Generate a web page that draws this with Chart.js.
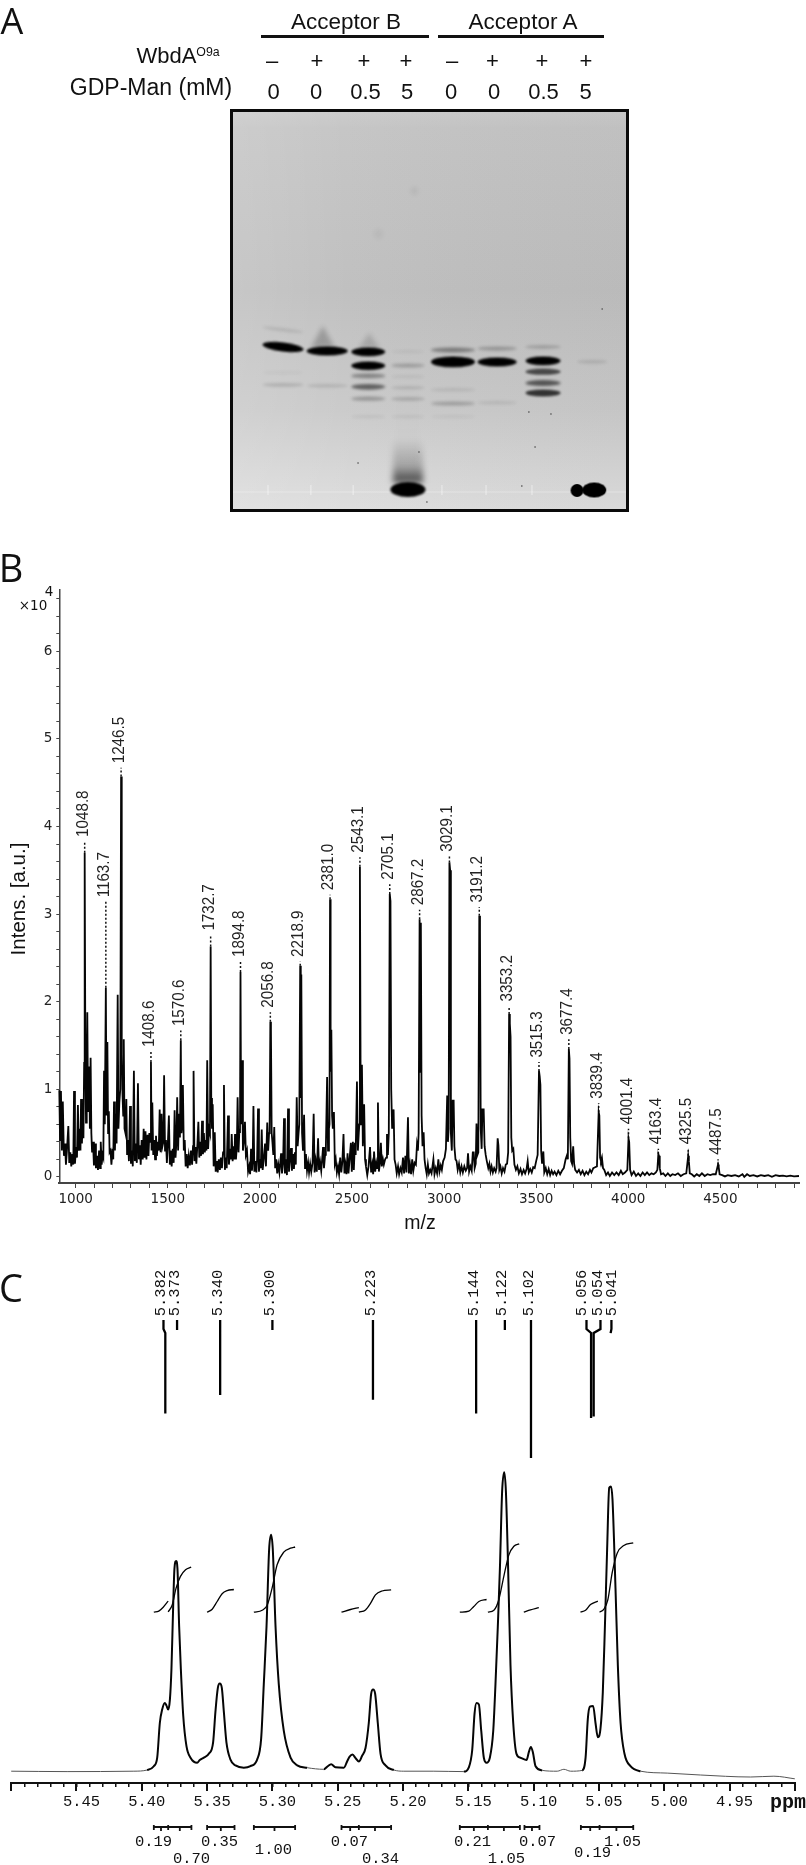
<!DOCTYPE html>
<html>
<head>
<meta charset="utf-8">
<title>WbdA gel, MALDI and NMR</title>
<script src="https://cdn.jsdelivr.net/npm/chart.js@4/dist/chart.umd.min.js"></script>
<style>
html, body { margin: 0; padding: 0; background: #fff; }
#page { position: relative; width: 806px; height: 1865px; overflow: hidden; }
canvas { position: absolute; left: 0; }
.txt { position: absolute; white-space: nowrap; color: #111; line-height: 1; transform: translate(-50%, -50%); }
.txt sup { font-size: 0.56em; vertical-align: 0.55em; line-height: 0; }
</style>
</head>
<body>
<div id="page">
  <canvas id="gel" width="806" height="530" style="top:0"></canvas>
  <canvas id="maldi" width="806" height="680" style="top:560px"></canvas>
  <canvas id="nmr" width="806" height="605" style="top:1260px"></canvas>
</div>
<script>
/* ---------- panel A data ---------- */
const wbdaRow = ['–', '+', '+', '+', '–', '+', '+', '+']
const gdpManRow = ['0', '0', '0.5', '5', '0', '0', '0.5', '5']
const laneIndex = [1, 2, 2.93, 3.83, 4.85, 5.85, 6.89, 8]
// lane (1-8), migration from top of gel, band strength
const bandLane = [1, 1, 1, 1, 2, 2, 3, 3, 3, 3, 3, 3, 4, 4, 4, 4, 4, 4, 5, 5, 5, 5, 5, 6, 6, 6, 7, 7, 7, 7, 7, 8]
const bandMigration = [235, 218, 261, 273, 239, 274, 240, 254, 264, 275, 287, 305, 240, 254, 265, 276, 287, 305, 250, 238, 278, 292, 305, 250, 237, 291, 249, 235, 260, 271, 281, 250]
const bandStrength = [1, 0.09, 0.03, 0.12, 1, 0.1, 0.95, 0.9, 0.3, 0.45, 0.22, 0.05, 0.04, 0.18, 0.05, 0.1, 0.14, 0.05, 1.3, 0.32, 0.07, 0.18, 0.04, 1, 0.2, 0.07, 0.95, 0.15, 0.55, 0.5, 0.65, 0.1]
const blobLane = [3.83, 7.66, 8.05]
const blobMigration = [377.5, 378.5, 378]
const smearLane = [1.9, 2.95, 3.83, 3.83]
const smearMigration = [225, 229, 349, 300]
const speckLane = [8.23, 4.08, 2.7, 6.57, 7.07, 6.71, 6.41, 4.26]
const speckMigration = [197, 340, 351, 300, 302, 335, 374, 390]
const faintSpotLane = [3.97, 3.16]
const faintSpotMigration = [79, 122]

/* ---------- panel B data ---------- */
const peakMz = [1048.8, 1163.7, 1246.5, 1408.6, 1570.6, 1732.7, 1894.8, 2056.8, 2218.9, 2381.0, 2543.1, 2705.1, 2867.2, 3029.1, 3191.2, 3353.2, 3515.3, 3677.4, 3839.4, 4001.4, 4163.4, 4325.5, 4487.5]
const peakTop = [3.70, 2.16, 4.57, 1.31, 1.56, 2.63, 2.34, 1.77, 2.41, 3.17, 3.54, 3.23, 2.94, 3.59, 2.98, 1.86, 1.21, 1.46, 0.74, 0.44, 0.26, 0.24, 0.14]
const peakLeaderTop = [3.83, 3.14, 4.67, 1.43, 1.67, 2.76, 2.46, 1.88, 2.46, 3.22, 3.65, 3.34, 3.05, 3.66, 3.08, 1.95, 1.31, 1.57, 0.84, 0.55, 0.32, 0.32, 0.20]
// m/z, intensity (x10^4)
const spectrum = [
[911,.99],[915,.42],[920,.98],[925,.30],[930,.86],[936,.24],[942,.38],[947,.14],[953,.32],[960,.58],[965,.16],[971,.28],[976,.12],[982,.26],[987,.14],[991,.98],[996,.15],[1002,.34],[1007,.22],[1012,.82],[1017,.30],[1022,.55],[1026,.30],[1029,.89],[1034,.38],[1038,.70],[1042,.44],[1046,1.30],[1048.8,3.70],[1052,1.7],[1056,.62],[1060,1.0],[1063,1.88],[1067,.75],[1071,.85],[1074,1.26],[1077,.55],[1081,1.36],[1085,.50],[1089,.28],[1094,.40],[1099,.13],[1105,.38],[1110,.10],[1116,.24],[1121,.08],[1127,.30],[1132,.10],[1136,.40],[1141,.14],[1146,.25],[1150,.22],[1154,1.21],[1158,.60],[1163.7,2.16],[1167,.7],[1170,1.0],[1172,1.54],[1176,.5],[1180,.75],[1184,.28],[1189,.30],[1194,.14],[1200,.32],[1204,.20],[1208,.86],[1213,.30],[1218,.72],[1222,.38],[1228,2.08],[1232,.55],[1237,.85],[1242,1.0],[1246.5,4.57],[1250,1.4],[1254,.95],[1258,.70],[1261,1.57],[1265,.55],[1270,.50],[1275,.89],[1279,.25],[1284,.42],[1289,.18],[1295,.81],[1300,.15],[1305,.30],[1310,.12],[1316,1.21],[1321,.18],[1326,.38],[1332,.16],[1338,1.07],[1343,.20],[1348,.36],[1353,.14],[1358,.42],[1364,.20],[1369,.55],[1374,.22],[1379,.52],[1384,.20],[1390,.48],[1395,.24],[1400,.50],[1404,.40],[1408.6,1.31],[1412,.30],[1416,.85],[1421,.25],[1426,.42],[1431,.20],[1436,.47],[1441,.24],[1446,.40],[1451,.30],[1456,.77],[1461,.28],[1466,.72],[1471,.35],[1476,.40],[1480,1.16],[1485,.30],
[1490,.42],[1495,.16],[1500,.36],[1506,.70],[1511,.14],[1516,.30],[1521,.12],[1527,.32],[1532,.16],[1537,.76],[1542,.22],[1547,.40],[1551,.91],[1556,.30],[1561,.72],[1566,.45],[1570.6,1.56],[1574,.50],[1578,.60],[1582,1.05],[1587,.30],[1592,.42],[1597,.12],[1603,.26],[1608,.10],[1614,.24],[1620,.13],[1626,.30],[1632,.14],[1637,.35],[1640,1.21],[1645,.18],[1650,.34],[1655,.15],[1661,.38],[1666,.63],[1671,.22],[1676,.40],[1681,.24],[1686,.64],[1691,.26],[1696,.50],[1701,.28],[1706,.42],[1710,.30],[1714,1.33],[1719,.32],[1724,.55],[1729,.50],[1732.7,2.63],[1736,.90],[1740,.55],[1744,.83],[1749,.12],[1755,.51],[1760,.06],[1766,.18],[1771,.05],[1777,.20],[1783,.08],[1788,.22],[1794,.10],[1800,.28],[1805,1.05],[1810,.08],[1815,.22],[1820,.10],[1827,.70],[1832,.14],[1838,.32],[1843,.20],[1847,.49],[1852,.18],[1858,.35],[1862,.20],[1865,.49],[1870,.20],[1875,.35],[1879,.91],[1884,.28],[1889,.55],[1892,.50],[1894.8,2.34],[1898,.60],[1903,1.33],[1908,.30],[1913,.40],[1919,.63],[1924,.25],[1930,.30],[1936,.06],[1942,.12],[1947,.03],[1952,.32],[1957,.07],[1961,.20],[1965,.81],[1970,.06],[1976,.18],[1981,.05],[1985,.20],[1990,.78],[1995,.06],[2000,.20],[2005,.10],[2010,.54],[2015,.08],[2021,.20],[2028,.38],[2033,.12],[2040,.62],[2045,.30],[2050,.50],[2053,.55],[2056.8,1.77],[2060,1.68],[2064,.50],[2068,.40],[2073,.25],[2078,.57],[2083,.10],[2089,.20],[2094,.04],[2100,.14],[2106,.05],[2115,.27],[2120,.04],[2126,.16],[2131,.67],[2136,.04],[2142,.20],[2147,.02],[2153,.78],[2158,.06],[2164,.22],[2169,.33],[2174,.07],[2180,.26],[2185,.09],[2190,.28],[2195,.14],[2200,.91],[2205,.35],[2210,.50],[2214,.60],[2218.9,2.41],[2222,.9],[2225,2.31],[2229,.5],[2234,.30],[2240,.71],[2245,.10],[2250,.26],[2256,.07],[2262,.16],[2267,.05],[2273,.15],[2279,.06],[2286,.16],[2292,.72],[2297,.05],[2303,.18],[2309,.06],[2316,.44],[2321,.08],[2327,.17],[2333,.07],[2338,.20],[2343,.34],[2348,.10],[2354,.25],[2358,.30],[2365,1.14],[2370,.30],[2375,.55],[2378,.60],[2381,3.17],[2384,1.2],[2388,1.68],[2392,.70],[2396,.55],[2402,.74],[2407,.15],[2412,.20],[2418,.05],[2424,.12],[2430,.03],[2436,.22],[2442,.05],[2448,.18],[2454,.49],[2459,.04],[2465,.14],[2470,.03],[2476,.27],[2481,.04],[2487,.20],[2494,.39],[2499,.06],[2505,.40],[2510,.08],[2516,.39],[2520,.25],[2527,1.09],[2532,.30],[2537,.50],[2540,.60],[2543.1,3.54],[2547,1.0],[2550,.6],[2554,1.28],[2559,.35],[2566,.83],[2571,.20],[2576,.12],[2583,.02],[2590,.12],[2598,.34],[2604,.05],[2610,.14],[2615,.03],[2620,.29],[2626,.06],[2632,.16],[2637,.10],[2641,.85],[2646,.06],[2652,.16],[2657,.39],[2662,.12],[2668,.20],[2673,.14],[2680,.20],[2686,.22],[2690,.49],[2695,.25],[2700,.50],[2705.1,3.23],[2709,3.15],[2713,1.0],[2718,.55],[2726,.77],[2731,.20],[2737,.14],[2743,.04],[2750,.12],[2756,.03],[2763,.10],[2770,.05],[2777,.22],[2783,.04],[2790,.24],[2796,.05],[2804,.68],[2809,.04],[2815,.14],[2821,.03],[2827,.20],[2833,.07],[2840,.16],[2847,.14],[2853,.37],[2858,.30],[2862,.50],[2867.2,2.94],[2870,1.2],[2874,2.9],[2878,.70],[2883,.35],[2889,.51],[2894,.20],[2900,.10],[2906,.03],
[2912,.14],[2918,.04],[2925,.08],[2932,.04],[2942,.20],[2948,.03],[2955,.10],[2962,.04],[2969,.20],[2975,.06],[2982,.13],[2988,.08],[2995,.18],[3003,.22],[3010,.32],[3017,.93],[3021,.40],[3025,.55],[3029.1,3.59],[3033,3.5],[3037,.50],[3042,.30],[3047,.87],[3052,.87],[3056,.35],[3062,.20],[3068,.18],[3074,.08],[3081,.15],[3088,.05],[3095,.12],[3102,.05],[3110,.12],[3118,.07],[3125,.10],[3130,.27],[3136,.06],[3143,.12],[3150,.07],[3156,.28],[3161,.28],[3166,.10],[3172,.15],[3176,.61],[3181,.25],[3186,.28],[3191.2,2.98],[3195,2.8],[3199,.55],[3204,.32],[3208,.77],[3215,.77],[3220,.35],[3226,.25],[3232,.18],[3240,.10],[3246,.15],[3252,.06],[3258,.12],[3265,.05],[3272,.10],[3280,.06],[3285,.10],[3291,.44],[3295,.36],[3300,.08],[3306,.12],[3313,.04],[3320,.10],[3328,.06],[3335,.14],[3342,.15],[3348,.28],[3353.2,1.86],[3357,1.75],[3361,1.60],[3365,.45],[3370,.30],[3376,.32],[3382,.14],[3390,.08],[3398,.12],[3406,.04],[3415,.09],[3423,.03],[3432,.08],[3440,.04],[3448,.09],[3454,.18],[3460,.05],[3468,.09],[3476,.05],[3484,.11],[3492,.10],[3500,.18],[3508,.25],[3515.3,1.21],[3519,1.15],[3523,1.05],[3527,.30],[3532,.15],[3539,.29],[3544,.05],[3552,.10],[3560,.03],[3568,.09],[3576,.02],[3584,.07],[3592,.03],[3600,.06],[3610,.02],[3620,.07],[3630,.03],[3640,.07],[3650,.10],[3660,.20],[3668,.25],[3672,.20],[3677.4,1.46],[3681,1.35],[3685,.45],[3690,.18],[3695,.15],[3701,.35],[3706,.15],[3712,.08],[3722,.05],[3732,.08],[3742,.03],[3752,.07],[3762,.02],[3772,.06],[3782,.03],[3792,.08],[3800,.05],[3810,.10],[3820,.11],[3830,.12],[3839.4,.74],[3843,.70],[3847,.22],[3852,.18],[3857,.22],[3863,.10],[3870,.08],[3880,.02],[3890,.05],[3900,.01],[3912,.05],[3924,.02],[3936,.05],[3948,.02],[3960,.07],[3970,.03],[3982,.05],[3995,.08],[4001.4,.44],[4005,.40],[4010,.08],[4018,.02],[4030,.06],[4042,.01],[4054,.04],[4066,.01],[4078,.05],[4090,.02],[4102,.05],[4114,.02],[4126,.04],[4138,.03],[4150,.05],[4158,.08],[4163.4,.26],[4167,.24],[4171,.10],[4178,.03],[4190,.04],[4202,.01],[4215,.04],[4228,.01],[4240,.03],[4255,.02],[4270,.04],[4285,.01],[4300,.03],[4315,.04],[4325.5,.24],[4329,.18],[4334,.04],[4345,.03],[4358,.005],[4372,.03],[4386,.01],[4400,.04],[4415,.01],[4430,.03],[4445,.02],[4460,.03],[4475,.03],[4487.5,.14],[4491,.11],[4496,.03],[4510,.02],[4525,.005],[4540,.02],[4560,.01],[4580,.02],[4600,.005],[4620,.03],[4630,0],[4645,.03],[4660,.01],[4680,.02],[4700,.005],[4720,.02],[4740,.01],[4760,.02],[4780,0],[4800,.02],[4820,.01],[4840,.015],[4860,.005],[4880,.015],[4900,.005],[4927,.01]
]

/* ---------- panel C data ---------- */
const shiftPpm = [5.382, 5.373, 5.340, 5.300, 5.223, 5.144, 5.122, 5.102, 5.056, 5.054, 5.041]
const shiftStubPpm = [5.3834, 5.373, 5.340, 5.300, 5.223, 5.144, 5.122, 5.102, 5.0595, 5.0488, 5.0404]
const shiftStickEnd = [369, 452.5, 387.5, 452.5, 382.8, 369, 452.5, 324.5, 364.5, 366, 450]
// ppm, signal height
const nmrTrace = [
[5.5005,11.3],[5.4572,10.9],[5.4061,11.3],[5.3959,12.5],[5.3908,16.3],[5.3882,24.8],[5.3862,59.5],[5.3844,73],[5.3824,79.6],[5.3811,76.9],[5.3798,73],[5.3785,82.7],[5.3773,113.5],[5.3760,175.3],[5.3750,213.9],[5.3737,221.6],[5.3727,213.9],[5.3714,156],[5.3701,113.5],[5.3683,67.3],[5.3658,36.4],[5.3627,24.8],[5.3576,19.8],[5.3556,22.5],[5.3525,24.8],[5.3487,28.7],[5.3454,40.2],[5.3436,71.1],[5.3418,94.3],[5.3403,98.9],[5.3387,94.3],[5.3372,71.1],[5.3352,40.2],[5.3321,22.9],[5.3283,17.1],[5.3219,14.8],[5.3168,16.3],[5.3117,22.9],[5.3086,44.1],[5.3066,98.1],[5.3045,156],[5.3025,233.2],[5.3010,247.8],[5.2997,233.2],[5.2976,156],[5.2951,98.1],[5.2913,51.8],[5.2861,24.8],[5.2810,17.1],[5.2734,14.8],[5.2606,13.2],[5.2576,16.3],[5.2550,18.3],[5.2517,15.2],[5.2453,14.8],[5.2428,21],[5.2410,25.6],[5.2387,27.9],[5.2361,24],[5.2338,21],[5.2313,26.8],[5.2287,34.5],[5.2262,59.5],[5.2244,88.5],[5.2229,93.1],[5.2213,88.5],[5.2193,59.5],[5.2172,28.7],[5.2134,17.1],[5.2070,12.5],[5.1994,11.3],
[5.1764,11.3],[5.1534,10.9],[5.1496,15.2],[5.1470,32.5],[5.1452,69.2],[5.1437,79.6],[5.1419,78.1],[5.1401,51.8],[5.1381,24.8],[5.1360,19.8],[5.1335,24.8],[5.1309,51.8],[5.1292,98.1],[5.1274,156],[5.1258,213.9],[5.1241,291],[5.1225,310.3],[5.1212,291],[5.1195,213.9],[5.1177,117.4],[5.1156,59.5],[5.1131,28.7],[5.1100,24.8],[5.1054,22.5],[5.1036,30.6],[5.1021,35.6],[5.1006,30.6],[5.0985,16.3],[5.0934,12.1],[5.0819,11.3],[5.0768,13.2],[5.0717,11.3],[5.0628,12.1],[5.0602,24.8],[5.0585,63.4],[5.0569,75.8],[5.0544,76.5],[5.0526,59.5],[5.0508,45.3],[5.0488,53.8],[5.0470,90.4],[5.0454,156],[5.0437,233.2],[5.0421,294.9],[5.0408,296],[5.0396,283.3],[5.0373,194.6],[5.0355,117.4],[5.0334,59.5],[5.0304,28.7],[5.0258,16.3],[5.0181,11.3],[4.9977,9.4],[4.9722,7.5],[4.9339,5.5],[4.9160,6.3],[4.8995,3.6]
]
// running integral curves
const integralCurves = [
[[5.3908,170.3],[5.3870,171.4],[5.3836,175.3],[5.3798,181.4]],
[[5.3798,170.7],[5.3768,177.2],[5.3737,194.6],[5.3704,206.1],[5.3665,212.7],[5.3622,215.4]],
[[5.3500,170.3],[5.3461,173.3],[5.3423,181],[5.3385,188.8],[5.3346,191.9],[5.3295,193]],
[[5.3142,170.3],[5.3078,172.2],[5.3040,177.2],[5.3002,194.6],[5.2964,217.7],[5.2913,230.4],[5.2861,234.3],[5.2826,235.5]],
[[5.2471,170.3],[5.2402,173],[5.2338,174.9]],
[[5.2338,170.3],[5.2287,172.6],[5.2249,179.1],[5.2211,187.6],[5.2160,191.5],[5.2091,192.6]],
[[5.1565,170.3],[5.1496,171.4],[5.1458,176],[5.1419,181],[5.1360,183]],
[[5.1350,170.3],[5.1304,172.2],[5.1266,183],[5.1228,206.1],[5.1190,227.4],[5.1151,236.2],[5.1110,238.6]],
[[5.1075,170.3],[5.1024,172.6],[5.0960,174.9]],
[[5.0641,170.3],[5.0602,172.2],[5.0564,178],[5.0508,181.4]],
[[5.0495,170.3],[5.0462,173.3],[5.0431,183],[5.0398,210],[5.0360,229.3],[5.0309,237],[5.0237,239.7]]
]
const integralValue = ['0.19', '0.70', '0.35', '1.00', '0.07', '0.34', '0.21', '1.05', '0.07', '0.19', '1.05']
const integralStart = [5.3908, 5.3798, 5.3500, 5.3142, 5.2471, 5.2338, 5.1565, 5.1350, 5.1070, 5.0638, 5.0495]
const integralEnd = [5.3798, 5.3620, 5.3290, 5.2826, 5.2338, 5.2091, 5.1350, 5.1105, 5.0955, 5.0495, 5.0237]
const integralLabelPpm = [5.3910, 5.3619, 5.3405, 5.2992, 5.2410, 5.2172, 5.1468, 5.1208, 5.0970, 5.0549, 5.0319]

/* ---------- layout only ---------- */
const integralLabelRow = [-59.5, -76.5, -59.5, -67, -59.5, -76.5, -59.5, -76.5, -59.5, -70.5, -59.5]
const laneBandWidth = [41, 41, 34, 33, 44, 39, 35, 30]
const sans = '"Liberation Sans", Arial, sans-serif'
const mono = '"Liberation Mono", monospace'
const dejavu = '"DejaVu Sans", sans-serif'

const page = document.getElementById('page')
function addText(html, x, y, font, rotate) {
    const el = document.createElement('div')
    el.className = 'txt'
    el.innerHTML = html
    el.style.left = x + 'px'
    el.style.top = y + 'px'
    el.style.font = font
    if (rotate) el.style.transform = 'translate(-50%, -50%) rotate(' + rotate + 'deg)'
    page.appendChild(el)
}

addText('A', 12, 20, '36px "Open Sans"')
addText('B', 11, 567, '38px "Open Sans"')
addText('C', 11, 1287, '38px "Open Sans"')

addText('Acceptor B', 346, 22, '22.5px ' + sans)
addText('Acceptor A', 523, 22, '22.5px ' + sans)
addText('WbdA<sup>O9a</sup>', 178, 56, '22px ' + sans)
addText('GDP-Man (mM)', 151, 86.5, '23px ' + sans)
const wbdaX = [272, 317, 364, 406, 452, 492.5, 542, 586]
const gdpX = [273.5, 316, 365.5, 407, 451, 494, 543.5, 585.6]
wbdaRow.forEach((s, i) => addText(s, wbdaX[i], 60.5, '22px ' + sans))
gdpManRow.forEach((s, i) => addText(s, gdpX[i], 92, '22px ' + sans))

addText('Intens. [a.u.]', 18, 899, '20.5px ' + sans, -90)
addText('m/z', 420, 1222, '19.5px ' + sans)
addText('×10', 33, 605, '13.5px ' + dejavu)
addText('4', 49, 591, '13.5px ' + dejavu)
addText('ppm', 788, 1802, 'bold 20px ' + mono)

/* ---------- panel A: gel bands are sprites placed by the chart scales ---------- */
function sprite(w, h, paint) {
    const pad = 8
    const c = document.createElement('canvas')
    c.width = Math.ceil(w + pad * 2)
    c.height = Math.ceil(h + pad * 2)
    paint(c.getContext('2d'), pad, w, h)
    return c
}
function ellipseSprite(w, h, alpha, blur) {
    return sprite(w, h, (g, pad) => {
        g.filter = 'blur(' + blur + 'px)'
        g.fillStyle = 'rgba(0,0,0,' + alpha + ')'
        g.beginPath()
        g.ellipse(pad + w / 2, pad + h / 2, w / 2, h / 2, 0, 0, Math.PI * 2)
        g.fill()
    })
}
function triangleSprite(w, h, alpha) {
    return sprite(w, h, (g, pad) => {
        g.filter = 'blur(2.5px)'
        g.fillStyle = 'rgba(0,0,0,' + alpha + ')'
        g.beginPath()
        g.moveTo(pad + w / 2, pad)
        g.lineTo(pad + w, pad + h)
        g.lineTo(pad, pad + h)
        g.fill()
    })
}
function columnSprite(w, h, alpha) {
    return sprite(w, h, (g, pad) => {
        const grad = g.createLinearGradient(0, pad, 0, pad + h)
        grad.addColorStop(0, 'rgba(0,0,0,0)')
        grad.addColorStop(0.6, 'rgba(0,0,0,' + alpha * 0.3 + ')')
        grad.addColorStop(1, 'rgba(0,0,0,' + alpha + ')')
        g.filter = 'blur(3px)'
        g.fillStyle = grad
        g.fillRect(pad, pad, w, h)
    })
}

const bandPoints = bandLane.map((lane, i) => ({ x: laneIndex[lane - 1], y: bandMigration[i] }))
const bandSprites = bandLane.map((lane, i) => {
    const s = bandStrength[i]
    return ellipseSprite(laneBandWidth[lane - 1], 3 + 6 * Math.min(s, 1.4), Math.min(1, s * 1.15), s > 0.5 ? 0.9 : 1.8)
})
const blobSprites = [ellipseSprite(35, 15, 1, 0.8), ellipseSprite(13, 13, 1, 0.7), ellipseSprite(24, 15, 1, 0.7)]
const smearSprites = [triangleSprite(24, 22, 0.22), triangleSprite(22, 16, 0.15), columnSprite(30, 44, 0.7), columnSprite(24, 100, 0.015)]
const spotSprites = [ellipseSprite(8, 8, 0.05, 2), ellipseSprite(10, 10, 0.04, 2)]

const gelPainter = {
    id: 'gelPainter',
    beforeDatasetsDraw(chart) {
        const { ctx, chartArea: a } = chart
        const v = ctx.createLinearGradient(0, a.top, 0, a.bottom)
        v.addColorStop(0, '#cacaca')
        v.addColorStop(0.04, '#c4c4c4')
        v.addColorStop(0.45, '#bebebe')
        v.addColorStop(0.75, '#c9c9c9')
        v.addColorStop(1, '#dddddd')
        ctx.fillStyle = v
        ctx.fillRect(a.left, a.top, a.right - a.left, a.bottom - a.top)
        const h = ctx.createLinearGradient(a.left, 0, a.right, 0)
        h.addColorStop(0, 'rgba(255,255,255,0.14)')
        h.addColorStop(0.3, 'rgba(255,255,255,0.03)')
        h.addColorStop(1, 'rgba(0,0,0,0.02)')
        ctx.fillStyle = h
        ctx.fillRect(a.left, a.top, a.right - a.left, a.bottom - a.top)
    },
    afterDatasetsDraw(chart) {
        const { ctx, chartArea: a } = chart
        ctx.strokeStyle = '#0a0a0a'
        ctx.lineWidth = 3
        ctx.strokeRect(a.left - 1.5, a.top - 1.5, a.right - a.left + 3, a.bottom - a.top + 3)
        ctx.fillStyle = '#111'
        ctx.fillRect(261, 35, 168, 3)
        ctx.fillRect(438, 35, 166, 3)
    }
}

new Chart(document.getElementById('gel'), {
    type: 'scatter',
    plugins: [gelPainter],
    data: {
        datasets: [
            {
                data: speckLane.map((x, i) => ({ x, y: speckMigration[i] })),
                pointRadius: 0.8, backgroundColor: '#444', borderWidth: 0
            },
            {
                data: blobLane.map((x, i) => ({ x, y: blobMigration[i] })),
                pointRadius: 1, pointStyle: ctx => blobSprites[ctx.dataIndex]
            },
            {
                data: bandPoints,
                pointRadius: 1,
                pointStyle: ctx => bandSprites[ctx.dataIndex],
                pointRotation: ctx => (bandLane[ctx.dataIndex] === 1 && ctx.dataIndex < 2 ? 7 : 0)
            },
            {
                data: smearLane.map((x, i) => ({ x, y: smearMigration[i] })),
                pointRadius: 1, pointStyle: ctx => smearSprites[ctx.dataIndex]
            },
            {
                data: faintSpotLane.map((x, i) => ({ x, y: faintSpotMigration[i] })),
                pointRadius: 1, pointStyle: ctx => spotSprites[ctx.dataIndex]
            },
            {
                // pale streak along the bottom of the gel
                showLine: true, pointRadius: 0, borderWidth: 1.5, borderColor: 'rgba(255,255,255,0.22)',
                data: [{ x: -0.133, y: 380 }, { x: 8.77, y: 380 }]
            },
            {
                showLine: true, pointRadius: 0, borderWidth: 1.5, borderColor: 'rgba(255,255,255,0.35)',
                data: [0.66, 1.63, 2.59, 4.6, 5.6, 6.64].flatMap(x => [{ x, y: 373 }, { x, y: 383 }, { x, y: null }])
            }
        ]
    },
    options: {
        responsive: false, animation: false,
        layout: { padding: { left: 233, right: 180, top: 112, bottom: 21 } },
        plugins: { legend: { display: false }, tooltip: { enabled: false } },
        scales: {
            x: { type: 'linear', display: false, min: -0.133, max: 8.77 },
            y: { type: 'linear', display: false, reverse: true, min: 0, max: 397 }
        }
    }
})

/* ---------- panel B: MALDI spectrum ---------- */
const peakLabels = {
    id: 'peakLabels',
    afterDatasetsDraw(chart) {
        const { ctx, scales } = chart
        ctx.save()
        ctx.fillStyle = '#222'
        ctx.font = '16.5px ' + sans
        ctx.textAlign = 'left'
        ctx.textBaseline = 'middle'
        peakMz.forEach((mz, i) => {
            ctx.save()
            ctx.translate(scales.x.getPixelForValue(mz) - 1.5, scales.y.getPixelForValue(peakLeaderTop[i]) - 4.5)
            ctx.rotate(-Math.PI / 2)
            ctx.scale(0.92, 1)
            ctx.fillText(peakMz[i].toFixed(1), 0, 0)
            ctx.restore()
        })
        ctx.restore()
    }
}

new Chart(document.getElementById('maldi'), {
    type: 'line',
    plugins: [peakLabels],
    data: {
        datasets: [
            {
                data: spectrum.map(p => ({ x: p[0], y: p[1] })),
                borderColor: '#050505', borderWidth: 1.8, pointRadius: 0, tension: 0, clip: false
            },
            {
                data: peakMz.flatMap((x, i) => [{ x, y: peakTop[i] }, { x, y: peakLeaderTop[i] }, { x, y: null }]),
                borderColor: '#111', borderWidth: 1.5, borderDash: [2, 2], pointRadius: 0, spanGaps: false
            }
        ]
    },
    options: {
        responsive: false, animation: false,
        layout: { padding: { left: 0, right: 7, top: 30, bottom: 0 } },
        plugins: { legend: { display: false }, tooltip: { enabled: false } },
        scales: {
            x: {
                type: 'linear', min: 911, max: 4927,
                afterFit: s => { s.height = 57 },
                border: { color: '#444', width: 2 },
                grid: { drawOnChartArea: false, tickLength: 5, color: '#444' },
                ticks: {
                    stepSize: 100, includeBounds: false, autoSkip: false, maxRotation: 0, padding: 3,
                    color: '#222', font: { family: dejavu, size: 13.5 },
                    callback: v => (v % 500 === 0 ? String(v) : '')
                }
            },
            y: {
                type: 'linear', min: -0.07, max: 6.7,
                afterFit: s => { s.width = 59.3 },
                border: { color: '#444', width: 1.5 },
                grid: { drawOnChartArea: false, tickLength: 3, color: '#444' },
                ticks: {
                    stepSize: 0.2, includeBounds: false, autoSkip: false, padding: 4,
                    color: '#222', font: { family: dejavu, size: 13.5 },
                    callback: v => (Math.abs(v - Math.round(v)) < 0.001 ? String(Math.round(v)) : '')
                }
            }
        }
    }
})

/* ---------- panel C: 1H NMR ---------- */
const nmrLabels = {
    id: 'nmrLabels',
    afterDatasetsDraw(chart) {
        const { ctx, scales } = chart
        ctx.save()
        ctx.fillStyle = '#111'
        ctx.font = '15.5px ' + mono
        ctx.textAlign = 'center'
        ctx.textBaseline = 'middle'
        shiftPpm.forEach((p, i) => {
            const lx = i === 0 ? scales.x.getPixelForValue(5.382) - 4.5 : scales.x.getPixelForValue(p) - 2.5
            ctx.save()
            ctx.translate(i >= 8 ? [581.7, 597.7, 612.3][i - 8] : lx, scales.y.getPixelForValue(489.5))
            ctx.rotate(-Math.PI / 2)
            ctx.fillText(p.toFixed(3), 0, 0)
            ctx.restore()
        })
        integralValue.forEach((s, i) => {
            ctx.fillText(s, scales.x.getPixelForValue(integralLabelPpm[i]), scales.y.getPixelForValue(integralLabelRow[i]))
        })
        ctx.restore()
    }
}

const stickPoints = shiftPpm.flatMap((p, i) => {
    if (shiftStubPpm[i] === p) return [{ x: p, y: 462.5 }, { x: p, y: shiftStickEnd[i] }, { x: p, y: null }]
    return [
        { x: shiftStubPpm[i], y: 462.5 }, { x: shiftStubPpm[i], y: 453.5 },
        { x: p, y: 449.5 }, { x: p, y: shiftStickEnd[i] }, { x: p, y: null }
    ]
})
const bracketPoints = integralStart.flatMap((s, i) => {
    const e = integralEnd[i]
    const mid = (s + e) / 2
    return [
        { x: s, y: -42.5 }, { x: s, y: -44.5 }, { x: mid, y: -44.5 }, { x: mid, y: -48.5 }, { x: mid, y: -44.5 },
        { x: e, y: -44.5 }, { x: e, y: -42.5 }, { x: e, y: -47.5 }, { x: e, y: null },
        { x: s, y: -47.5 }, { x: s, y: -44.5 }, { x: s, y: null }
    ]
})

new Chart(document.getElementById('nmr'), {
    type: 'line',
    plugins: [nmrLabels],
    data: {
        datasets: [
            {
                data: nmrTrace.map(p => ({ x: p[0], y: p[1] })),
                borderColor: '#050505', borderWidth: 2, pointRadius: 0,
                cubicInterpolationMode: 'monotone',
                segment: {
                    borderWidth: c => (c.p0.parsed.y < 15 && c.p1.parsed.y < 15 ? 1 : undefined),
                    borderColor: c => (c.p0.parsed.y < 15 && c.p1.parsed.y < 15 ? '#555' : undefined)
                }
            },
            {
                data: integralCurves.flatMap(c => c.map(p => ({ x: p[0], y: p[1] })).concat([{ x: c[c.length - 1][0], y: null }])),
                borderColor: '#000', borderWidth: 1.3, pointRadius: 0, cubicInterpolationMode: 'monotone', spanGaps: false
            },
            {
                data: stickPoints,
                borderColor: '#000', borderWidth: 2.3, pointRadius: 0, tension: 0, spanGaps: false
            },
            {
                data: bracketPoints,
                borderColor: '#111', borderWidth: 1.8, pointRadius: 0, tension: 0, spanGaps: false, clip: false
            }
        ]
    },
    options: {
        responsive: false, animation: false,
        layout: { padding: { left: 11.2, right: 11.2, top: 22.5, bottom: 2.5 } },
        plugins: { legend: { display: false }, tooltip: { enabled: false } },
        scales: {
            x: {
                type: 'linear', reverse: true, min: 4.9, max: 5.5, position: { y: 0 },
                border: { color: '#111', width: 2 },
                grid: { drawOnChartArea: false, tickLength: 7, color: '#111', lineWidth: 2 },
                ticks: {
                    stepSize: 0.05, autoSkip: false, maxRotation: 0, padding: 3, labelOffset: 5,
                    color: '#111', font: { family: mono, size: 15.5 },
                    callback: v => (v < 4.92 || v > 5.48 ? '' : v.toFixed(2))
                }
            },
            xMinor: {
                type: 'linear', axis: 'x', reverse: true, min: 4.9, max: 5.5, position: { y: 0 },
                border: { display: false },
                grid: { drawOnChartArea: false, tickLength: 4, color: '#111', lineWidth: 1.5 },
                ticks: { stepSize: 0.01, autoSkip: false, maxRotation: 0, callback: () => '' }
            },
            y: { type: 'linear', display: false, min: -80, max: 500 }
        }
    }
})
</script>
</body>
</html>
